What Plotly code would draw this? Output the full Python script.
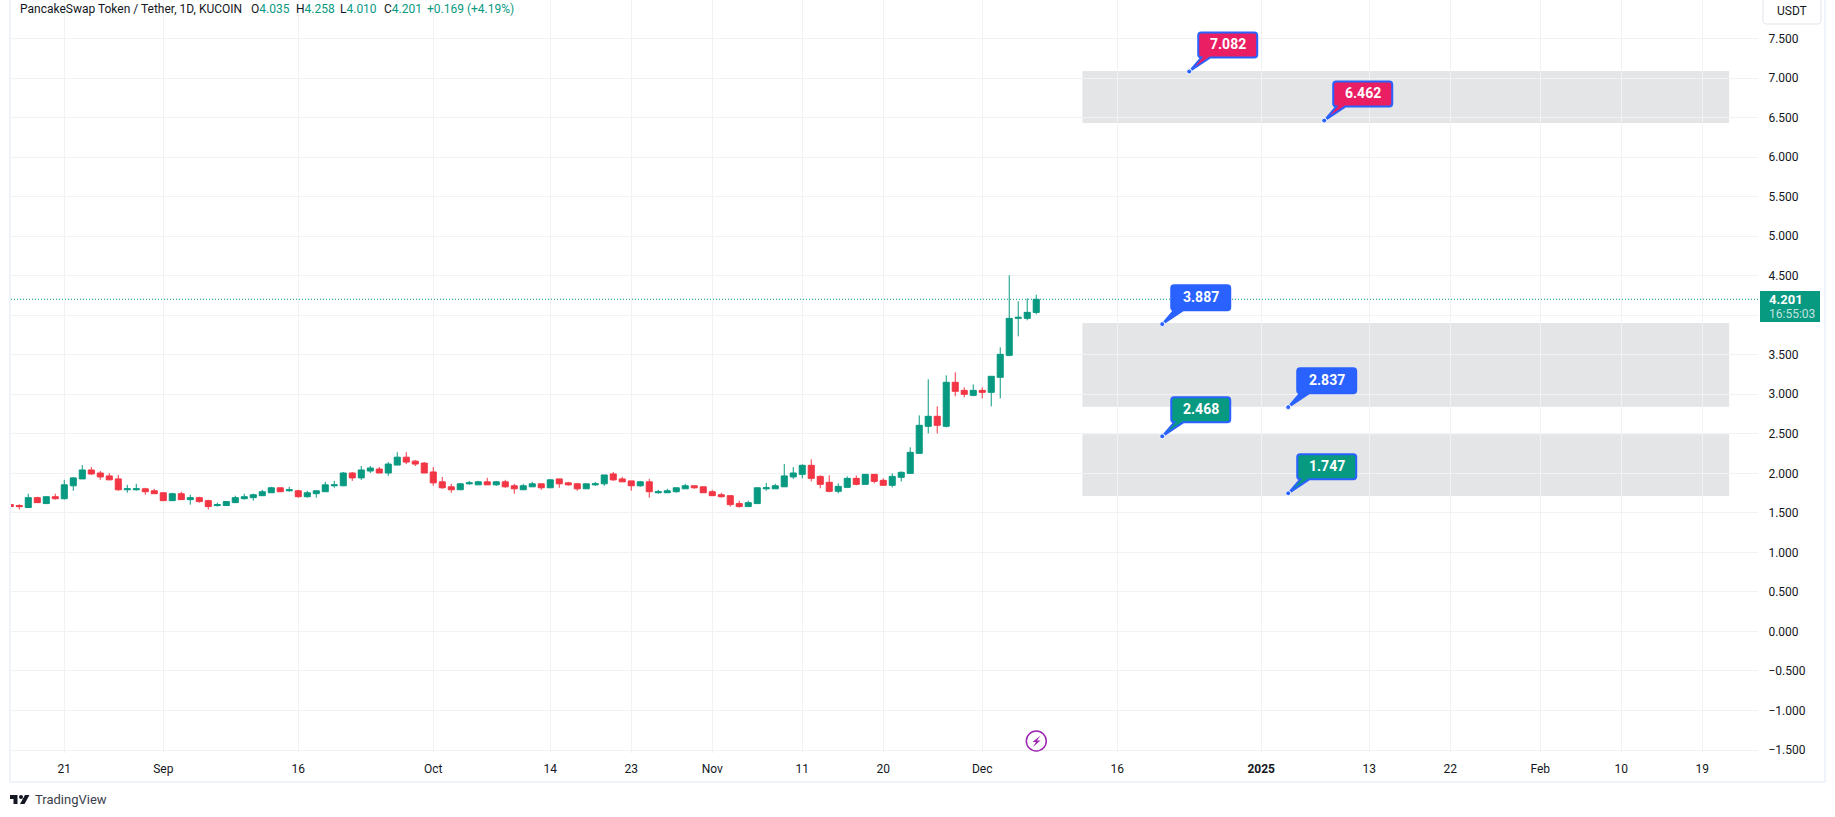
import pandas as pd
import plotly.graph_objects as go

W, H = 1835, 817
PL, PR, PB = 11, 1758, 753

dates = pd.date_range("2024-08-15", periods=115, freq="D").strftime("%Y-%m-%d").tolist()

opens = [1.604,1.592,1.567,1.692,1.617,1.704,1.679,1.842,1.929,2.042,2.004,1.967,1.929,1.792,1.792,1.804,1.779,
 1.754,1.654,1.742,1.667,1.692,1.654,1.592,1.592,1.629,1.679,1.692,1.717,1.754,1.817,1.779,1.779,1.704,1.742,1.767,1.842,1.842,2.004,1.942,2.029,2.054,2.004,2.104,2.204,2.154,2.129,
 2.017,1.892,1.829,1.792,1.867,1.854,1.892,1.854,1.892,1.842,1.792,1.829,1.867,1.817,1.929,1.879,1.867,1.804,1.854,1.867,1.992,1.929,1.904,1.842,1.892,1.754,1.754,1.767,1.804,1.842,1.829,
 1.767,1.729,1.717,1.617,1.579,1.617,1.804,1.804,1.829,1.954,1.987,2.101,1.961,1.886,1.772,1.822,1.936,1.860,1.987,1.911,1.848,1.949,1.999,2.252,2.594,2.721,2.594,3.151,3.049,2.986,
 3.049,3.024,3.214,3.492,3.960,3.960,4.035]
highs = [1.604,1.608,1.742,1.704,1.704,1.742,1.917,1.954,2.104,2.079,2.029,2.004,1.979,1.854,1.867,1.817,1.804,
 1.754,1.754,1.767,1.729,1.704,1.667,1.629,1.642,1.717,1.742,1.742,1.792,1.829,1.817,1.829,1.792,1.779,1.779,1.892,1.904,2.017,2.017,2.092,2.092,2.079,2.142,2.267,2.267,2.167,2.142,
 2.079,1.954,1.867,1.879,1.904,1.904,1.942,1.904,1.917,1.867,1.867,1.892,1.867,1.929,1.929,1.892,1.879,1.867,1.892,1.979,2.017,1.954,1.904,1.904,1.929,1.792,1.804,1.817,1.867,1.842,1.829,
 1.792,1.754,1.717,1.654,1.654,1.817,1.879,1.867,2.117,2.079,2.113,2.177,1.974,1.974,1.873,1.961,1.974,1.987,1.987,1.936,1.999,2.025,2.328,2.733,3.189,2.847,3.239,3.277,3.087,3.125,
 3.087,3.227,3.593,4.504,4.175,4.213,4.258]
lows = [1.579,1.542,1.567,1.629,1.617,1.667,1.667,1.779,1.929,1.979,1.917,1.917,1.779,1.754,1.779,1.729,1.742,
 1.654,1.654,1.667,1.604,1.629,1.542,1.579,1.592,1.629,1.667,1.654,1.717,1.754,1.767,1.767,1.692,1.692,1.692,1.767,1.817,1.842,1.904,1.917,2.004,2.004,1.967,2.104,2.117,2.092,2.004,
 1.842,1.804,1.754,1.792,1.854,1.854,1.854,1.842,1.817,1.742,1.792,1.829,1.792,1.817,1.817,1.842,1.779,1.804,1.842,1.842,1.904,1.892,1.779,1.829,1.692,1.742,1.754,1.754,1.804,1.804,1.754,
 1.717,1.692,1.579,1.567,1.579,1.617,1.779,1.804,1.829,1.929,1.936,1.898,1.810,1.759,1.746,1.822,1.848,1.860,1.873,1.848,1.822,1.898,1.999,2.252,2.505,2.505,2.581,2.974,2.961,2.974,
 2.948,2.847,2.948,3.480,3.733,3.935,4.010]
closes = [1.579,1.579,1.692,1.629,1.704,1.679,1.854,1.942,2.042,1.992,1.954,1.917,1.792,1.804,1.804,1.767,1.742,
 1.654,1.742,1.667,1.692,1.642,1.579,1.604,1.642,1.692,1.704,1.729,1.767,1.817,1.767,1.792,1.704,1.754,1.779,1.854,1.854,2.004,1.942,2.042,2.067,2.004,2.117,2.204,2.142,2.117,2.004,
 1.879,1.817,1.792,1.867,1.879,1.892,1.854,1.892,1.829,1.804,1.842,1.867,1.817,1.917,1.867,1.854,1.804,1.867,1.867,1.979,1.917,1.892,1.842,1.892,1.767,1.767,1.779,1.817,1.842,1.817,1.754,
 1.717,1.704,1.604,1.579,1.629,1.817,1.817,1.842,1.967,2.004,2.101,1.936,1.860,1.772,1.835,1.936,1.860,1.987,1.898,1.848,1.961,2.012,2.265,2.607,2.721,2.607,3.151,3.037,2.999,3.049,
 3.024,3.227,3.505,3.960,3.973,4.036,4.201]

last_price = 4.201

price_ticks = [-1.5,-1.0,-0.5,0.0,0.5,1.0,1.5,2.0,2.5,3.0,3.5,4.0,4.5,5.0,5.5,6.0,6.5,7.0,7.5]
price_tick_labels = ["\u22121.500","\u22121.000","\u22120.500","0.000","0.500","1.000","1.500","2.000","2.500","3.000",
                     "3.500","","4.500","5.000","5.500","6.000","6.500","7.000","7.500"]
date_ticks = ["2024-08-21","2024-09-01","2024-09-16","2024-10-01","2024-10-14","2024-10-23","2024-11-01","2024-11-11",
              "2024-11-20","2024-12-01","2024-12-16","2025-01-01","2025-01-13","2025-01-22","2025-02-01","2025-02-10","2025-02-19"]
date_tick_labels = ["21","Sep","16","Oct","14","23","Nov","11","20","Dec","16","<b>2025</b>","13","22","Feb","10","19"]

zone_start = "2024-12-12 03:00"
zone_end = "2025-02-22"
zone_tops = [7.089, 3.901, 2.493]
zone_bottoms = [6.431, 2.842, 1.712]

callout_dates = ["2024-12-24","2025-01-08","2024-12-21","2025-01-04","2024-12-21","2025-01-04"]
callout_values = [7.082,6.462,3.887,2.837,2.468,1.747]
callout_fills = ["#E91E63","#E91E63","#2962FF","#2962FF","#089981","#089981"]

GREEN, RED, BLUE = "#089981", "#F23645", "#2962FF"
TXT = "#131722"
FONT = "Roboto"
GRID = "#F1F2F4"
EDGE = "#F0F3FA"


def px(x):
    return (x - PL) / (PR - PL)


def py(y):
    return 1 - y / PB


def poly(points):
    return "M " + " L ".join(f"{px(x):.6f},{py(y):.6f}" for x, y in points) + " Z"


fig = go.Figure()
fig.add_trace(go.Candlestick(
    x=dates, open=opens, high=highs, low=lows, close=closes,
    increasing=dict(line=dict(color=GREEN, width=1), fillcolor=GREEN),
    decreasing=dict(line=dict(color=RED, width=1), fillcolor=RED),
    showlegend=False, hoverinfo="skip",
))
fig.add_trace(go.Scatter(
    x=callout_dates, y=callout_values, mode="markers",
    marker=dict(size=5, color=BLUE, line=dict(color="white", width=1)),
    showlegend=False, hoverinfo="skip",
))

shapes = []
for t, b in zip(zone_tops, zone_bottoms):
    shapes.append(dict(type="rect", xref="x", yref="y", x0=zone_start, x1=zone_end, y0=b, y1=t,
                       fillcolor="rgba(120,123,134,0.2)", line_width=0, layer="below"))
shapes.append(dict(type="line", xref="paper", yref="y", x0=0, x1=1, y0=last_price, y1=last_price,
                   line=dict(color=GREEN, width=1, dash="1px,2px"), layer="below"))

CALLOUT = ("M 0 0 L 12 14 Q 9 14 9 17 L 9 36 Q 9 39 12 39 L 65 39 Q 68 39 68 36 L 68 17 "
           "Q 68 14 65 14 L 21 14 Z")
for d, v, f in zip(callout_dates, callout_values, callout_fills):
    shapes.append(dict(type="path", xref="x", yref="y", xsizemode="pixel", ysizemode="pixel",
                       xanchor=d, yanchor=v, path=CALLOUT, fillcolor=f,
                       line=dict(color=BLUE, width=2), layer="above"))
    shapes.append(dict(type="circle", xref="x", yref="y", xsizemode="pixel", ysizemode="pixel",
                       xanchor=d, yanchor=v, x0=-2.5, x1=2.5, y0=-2.5, y1=2.5, fillcolor=BLUE,
                       line=dict(color="white", width=1), layer="above"))

rects = [
    (9, 0, 11, 783, EDGE), (1824, 0, 1826, 783, EDGE), (9, 781, 1826, 783, EDGE),
    (1760, 291, 1820, 322, GREEN),
]
for x0, y0, x1, y1, c in rects:
    shapes.append(dict(type="rect", xref="paper", yref="paper", x0=px(x0), x1=px(x1), y0=py(y1), y1=py(y0),
                       fillcolor=c, line_width=0, layer="above"))

# USDT button
shapes.append(dict(type="path", xref="paper", yref="paper", layer="above", fillcolor="white",
                   line=dict(color="#E0E3EB", width=1),
                   path=f"M {px(1763):.6f},{py(-2):.6f} L {px(1763):.6f},{py(20):.6f} "
                        f"Q {px(1763):.6f},{py(24):.6f} {px(1767):.6f},{py(24):.6f} L {px(1817):.6f},{py(24):.6f} "
                        f"Q {px(1821):.6f},{py(24):.6f} {px(1821):.6f},{py(20):.6f} L {px(1821):.6f},{py(-2):.6f} Z"))

# TradingView logo
for pts in ([(10, 795), (17.5, 795), (17.5, 804), (13.5, 804), (13.5, 799), (10, 799)],
            [(29.5, 795), (24.5, 804), (20, 804), (25, 795)]):
    shapes.append(dict(type="path", xref="paper", yref="paper", path=poly(pts), fillcolor=TXT, line_width=0))
shapes.append(dict(type="circle", xref="paper", yref="paper", x0=px(19), x1=px(23), y0=py(799), y1=py(795),
                   fillcolor=TXT, line_width=0))

# lightning badge
shapes.append(dict(type="circle", xref="paper", yref="paper", x0=px(1026.3), x1=px(1046.3), y0=py(751), y1=py(731),
                   fillcolor="white", line=dict(color="#9C27B0", width=1.5), layer="above"))
shapes.append(dict(type="path", xref="paper", yref="paper", layer="above", fillcolor="#9C27B0", line_width=0,
                   path=poly([(1040.5, 735.5), (1032.5, 742), (1036, 742), (1033, 747), (1040.5, 740.5), (1037, 740.5)])))

ann = []


def label(x, y, text, color=TXT, size=12, anchor="left", **kw):
    ann.append(dict(xref="paper", yref="paper", x=px(x), y=py(y), text=text, showarrow=False, xanchor=anchor,
                    yanchor="middle", font=dict(family=FONT, size=size, color=color), **kw))


label(18, 9, "PancakeSwap Token / Tether, 1D, KUCOIN")
for x, k, v in [(249, "O", "4.035"), (293.7, "H", "4.258"), (338, "L", "4.010"), (381.7, "C", "4.201")]:
    label(x, 9, f'{k}<span style="color:{GREEN}">{v}</span>')
label(425, 9, "+0.169 (+4.19%)", GREEN)
label(1792, 11, "USDT", anchor="center")
label(1767, 299, "<b>4.201</b>", "white", size=13)
label(1767, 314, "16:55:03", "rgba(255,255,255,0.75)")
label(33, 799, "TradingView", "#3A3E4A", size=13)

for d, v in zip(callout_dates, callout_values):
    ann.append(dict(xref="x", yref="y", x=d, y=v, text=f"<b>{v:.3f}</b>", showarrow=False, xshift=38.5, yshift=27.5,
                    xanchor="center", yanchor="middle", font=dict(family=FONT, size=14, color="white")))

fig.update_layout(
    width=W, height=H, autosize=False,
    margin=dict(l=PL, r=W - PR, t=0, b=H - PB, pad=0),
    paper_bgcolor="white", plot_bgcolor="white",
    font=dict(family=FONT, size=12, color=TXT),
    showlegend=False, hovermode=False, boxgap=0.18, boxgroupgap=0.18,
    shapes=shapes, annotations=ann,
    xaxis=dict(type="date", rangeslider=dict(visible=False),
               range=["2024-08-15 01:55", "2025-02-25 04:48"],
               tickmode="array", tickvals=date_ticks, ticktext=date_tick_labels, tickangle=0,
               showgrid=True, gridcolor=GRID, gridwidth=1, zeroline=False, showline=False,
               ticks="outside", ticklen=5, tickcolor="rgba(0,0,0,0)", tickfont=dict(size=12, color=TXT)),
    yaxis=dict(side="right", range=[-1.538, 7.987], tickmode="array", tickvals=price_ticks,
               ticktext=price_tick_labels,
               showgrid=True, gridcolor=GRID, gridwidth=1, zeroline=False, showline=False,
               ticks="outside", ticklen=7, tickcolor="rgba(0,0,0,0)", tickfont=dict(size=12, color=TXT)),
)

fig.write_html("out.html", config=dict(displayModeBar=False, staticPlot=True),
               post_script="document.body.style.margin='0';document.documentElement.style.overflow='hidden';")
